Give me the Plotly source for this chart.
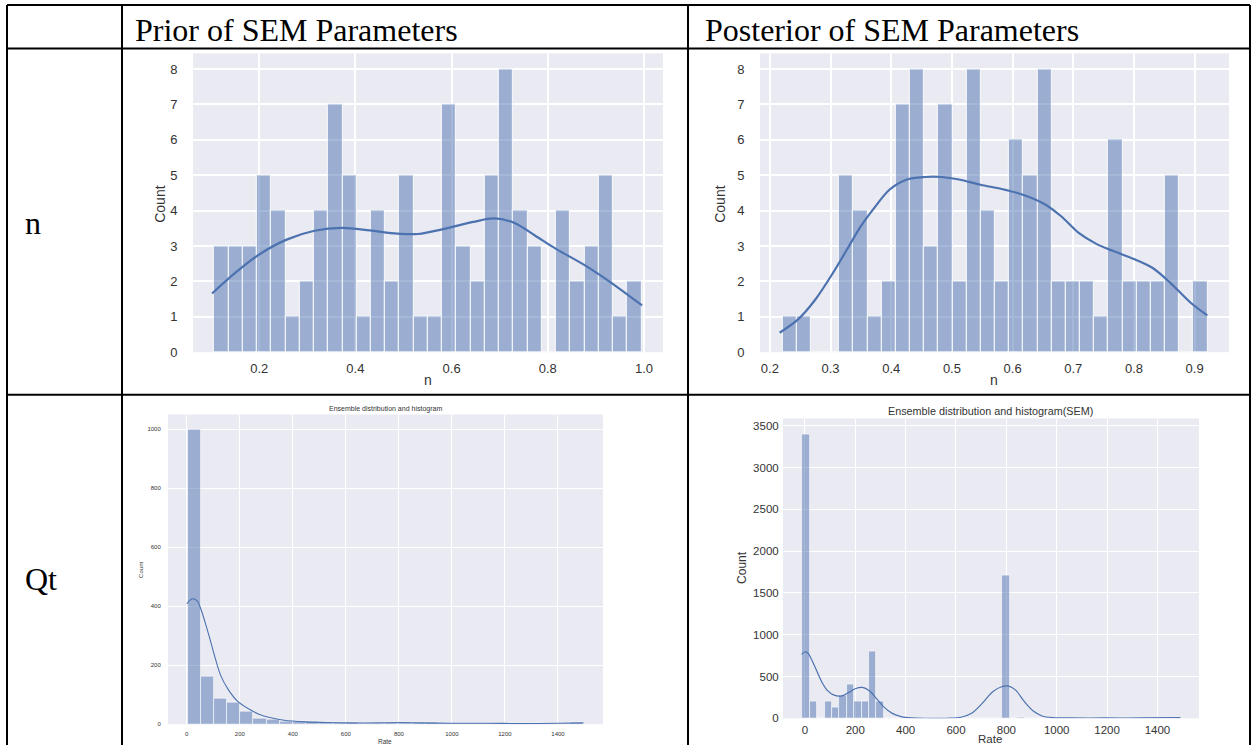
import numpy as np
import plotly.graph_objects as go

W, H = 1252, 753

# ---------------- data ----------------
# n, prior: 30 bins
prior_n_range = (0.1068, 0.9948)
prior_n_counts = [3, 3, 3, 5, 4, 1, 2, 4, 7, 5, 1, 4, 2, 5, 1,
                  1, 7, 3, 2, 5, 8, 4, 3, 0, 4, 2, 3, 5, 1, 2]
prior_n_kde_x = [0.102, 0.15, 0.20, 0.257, 0.315, 0.372, 0.43, 0.487, 0.53,
                 0.587, 0.645, 0.688, 0.731, 0.774, 0.817, 0.874, 0.932, 0.996]
prior_n_kde_y = [1.66, 2.24, 2.76, 3.18, 3.43, 3.51, 3.44, 3.35, 3.34,
                 3.49, 3.68, 3.78, 3.65, 3.29, 2.92, 2.48, 1.96, 1.32]

# n, posterior: 30 bins
post_n_range = (0.2208, 0.9214)
post_n_counts = [1, 1, 0, 0, 5, 4, 1, 2, 7, 8, 3, 7, 2, 8, 4,
                 2, 6, 5, 8, 2, 2, 2, 1, 6, 2, 2, 2, 5, 0, 2]
post_n_kde_x = [0.216, 0.246, 0.275, 0.304, 0.327, 0.350, 0.374, 0.397, 0.426,
                0.455, 0.483, 0.512, 0.547, 0.582, 0.617, 0.651, 0.680, 0.709,
                0.738, 0.767, 0.802, 0.831, 0.860, 0.894, 0.921]
post_n_kde_y = [0.55, 0.92, 1.49, 2.24, 2.90, 3.56, 4.12, 4.59, 4.88,
                4.95, 4.95, 4.88, 4.73, 4.61, 4.45, 4.20, 3.84, 3.37,
                3.06, 2.85, 2.62, 2.38, 1.96, 1.39, 1.04]

# Qt, prior: 30 bins
prior_qt_range = (3.0, 1494.0)
prior_qt_counts = [1000, 160, 86, 75, 42, 20, 17, 10, 10, 8,
                   6, 5, 4, 3, 3, 4, 5, 5, 4, 3,
                   3, 2, 2, 2, 2, 2, 2, 2, 3, 5]
prior_qt_kde_x = [0, 14, 27, 41, 54, 68, 88, 109, 129, 156, 190, 231, 272, 313,
                  367, 449, 530, 612, 721, 802, 884, 993, 1128, 1264, 1400, 1496]
prior_qt_kde_y = [408, 422, 425, 416, 388, 349, 287, 219, 163, 118, 79, 53, 34, 22.5,
                  13.5, 8, 5.6, 4.5, 4.5, 5.6, 4.5, 3.4, 3.4, 2.2, 3.4, 4.5]

# Qt, posterior (SEM): 51 bins
post_qt_range = (-10.0, 1490.0)
post_qt_counts = [3400, 200, 0, 200, 135, 270, 400, 200, 200, 800, 200,
                  0, 0, 0, 0, 0, 0, 0, 0, 0, 0, 0, 0, 0, 0, 0, 0,
                  1710, 0, 15, 0, 0, 0, 0, 0, 0, 0, 0, 0, 0, 0, 0,
                  0, 0, 0, 0, 0, 0, 0, 0, 5]
post_qt_kde_x = [-12.6, 0, 11, 25, 46, 67, 88, 116, 144, 172, 200, 228, 256, 284,
                 312, 347, 382, 424, 494, 564, 620, 662, 704, 746, 781, 809, 837,
                 872, 907, 942, 984, 1054, 1194, 1334, 1491]
post_qt_kde_y = [765, 793, 785, 713, 575, 436, 337, 277, 266, 305, 353, 369, 329, 238,
                 139, 59, 20, 4, 0, 0, 12, 59, 178, 317, 377, 384, 337,
                 198, 87, 28, 8, 4, 4, 4, 8]

col_headers = ["Prior of SEM Parameters", "Posterior of SEM Parameters"]
row_labels = ["n", "Qt"]

# ---------------- styling ----------------
BG = "#EAEAF2"
BAR = "rgba(76,114,176,0.5)"
LINE = "#4C72B0"
TXT = "#333333"


def px(x):
    return x / W


def py(y):
    return 1 - y / H


fig = go.Figure()


def add_hist(counts, rng, kx, ky, xa, ya, lw, edge_w):
    edges = np.linspace(rng[0], rng[1], len(counts) + 1)
    centers = (edges[:-1] + edges[1:]) / 2
    width = edges[1] - edges[0]
    fig.add_trace(go.Bar(
        x=centers, y=counts, width=width, xaxis=xa, yaxis=ya,
        marker=dict(color=BAR, line=dict(color="rgba(255,255,255,0.75)", width=edge_w)),
        showlegend=False, hoverinfo="skip"))
    fig.add_trace(go.Scatter(
        x=kx, y=ky, mode="lines", xaxis=xa, yaxis=ya,
        line=dict(color=LINE, width=lw, shape="spline", smoothing=0.9),
        showlegend=False, hoverinfo="skip"))


add_hist(prior_n_counts, prior_n_range, prior_n_kde_x, prior_n_kde_y, "x", "y", 2.2, 1.2)
add_hist(post_n_counts, post_n_range, post_n_kde_x, post_n_kde_y, "x2", "y2", 2.2, 1.2)
add_hist(prior_qt_counts, prior_qt_range, prior_qt_kde_x, prior_qt_kde_y, "x3", "y3", 1.1, 0.8)
add_hist(post_qt_counts, post_qt_range, post_qt_kde_x, post_qt_kde_y, "x4", "y4", 1.2, 0.8)


def axis(domain, rng, ticks, labels, size, ticklen, anchor, gw):
    return dict(domain=domain, range=rng, tickvals=ticks, ticktext=labels,
                anchor=anchor, showgrid=True, gridcolor="white", gridwidth=gw,
                zeroline=False, showline=False, ticks="outside", ticklen=ticklen,
                tickcolor="rgba(0,0,0,0)",
                tickfont=dict(family="Liberation Sans, Arial", size=size, color=TXT))


# panel rectangles (pixels): left, right, top, bottom
P1 = (193, 663, 54, 356)
P2 = (760, 1229, 54, 356)
P3 = (168, 603, 419, 732)
P4 = (783, 1199, 423, 726)


def dom(p):
    return [px(p[0]), px(p[1])], [py(p[3]), py(p[2])]


d1x, d1y = dom(P1)
d2x, d2y = dom(P2)
d3x, d3y = dom(P3)
d4x, d4y = dom(P4)

t1 = [0.2, 0.4, 0.6, 0.8, 1.0]
t2 = [0.2, 0.3, 0.4, 0.5, 0.6, 0.7, 0.8, 0.9]
tq = list(range(0, 1401, 200))
yc = list(range(0, 9))

fig.update_layout(
    width=W, height=H, margin=dict(l=0, r=0, t=0, b=0),
    paper_bgcolor="white", plot_bgcolor=BG, bargap=0,
    xaxis=axis(d1x, [0.0624, 1.0395], t1, [f"{v:.1f}" for v in t1], 13, 4, "y", 1.5),
    yaxis=axis(d1y, [0, 8.44], yc, [str(v) for v in yc], 13, 12, "x", 1.5),
    xaxis2=axis(d2x, [0.1837, 0.9567], t2, [f"{v:.1f}" for v in t2], 13, 4, "y2", 1.5),
    yaxis2=axis(d2y, [0, 8.44], yc, [str(v) for v in yc], 13, 12, "x2", 1.5),
    xaxis3=axis(d3x, [-70.8, 1569.8], tq, [str(v) for v in tq], 6, 4, "y3", 1),
    yaxis3=axis(d3y, [0, 1050], list(range(0, 1001, 200)), [str(v) for v in range(0, 1001, 200)], 6, 5, "x3", 1),
    xaxis4=axis(d4x, [-86.8, 1565], tq, [str(v) for v in tq], 11.5, 1, "y4", 1),
    yaxis4=axis(d4y, [0, 3587], list(range(0, 3501, 500)), [str(v) for v in range(0, 3501, 500)], 11.5, 1, "x4", 1),
)

# table rules
rules = [
    (7, 5, 1250, 5), (7, 49, 1250, 49), (7, 399, 1250, 399),
    (7, 5, 7, 753), (122, 5, 122, 753), (688, 5, 688, 753), (1250, 5, 1250, 753),
]
for x0, y0, x1, y1 in rules:
    fig.add_shape(type="line", xref="paper", yref="paper",
                  x0=px(x0), y0=py(y0), x1=px(x1), y1=py(y1),
                  line=dict(color="black", width=2))

ann = []
serif = "Liberation Serif, Times New Roman"


def label(x, y, text, family, size, xanchor="center", angle=0, color="black"):
    ann.append(dict(x=px(x), y=py(y), text=text, xanchor=xanchor, yanchor="middle",
                    textangle=angle, font=dict(family=family, size=size, color=color)))


label(133, 30, col_headers[0], serif, 32, "left")
label(703, 30, col_headers[1], serif, 32, "left")
label(23, 225, row_labels[0], serif, 32, "left")
label(23, 585, row_labels[1], serif, 32, "left")

sans = "Liberation Sans, Arial"
# axis titles and panel titles
label(160, 207, "Count", sans, 14, angle=-90, color=TXT)
label(428, 384, "n", sans, 14, color=TXT)
label(720, 207, "Count", sans, 14, angle=-90, color=TXT)
label(994, 384, "n", sans, 14, color=TXT)

label(385, 413, "Ensemble distribution and histogram", sans, 7, color=TXT)
label(141, 576, "Count", sans, 6, angle=-90, color=TXT)
label(385, 749, "Rate", sans, 6.5, color=TXT)

label(990, 415, "Ensemble distribution and histogram(SEM)", sans, 10.8, color=TXT)
label(742, 574, "Count", sans, 12, angle=-90, color=TXT)
label(990, 747, "Rate", sans, 11.5, color=TXT)

for a in ann:
    a.update(xref="paper", yref="paper", showarrow=False)
fig.update_layout(annotations=ann)

fig.write_html("out.html")
